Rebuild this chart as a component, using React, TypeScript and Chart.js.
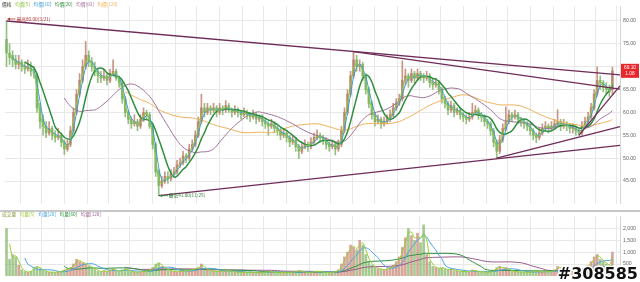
import React, { useEffect, useRef } from 'react';
import { Chart, registerables } from 'chart.js';

Chart.register(...registerables);

// ---- data (one bar ≈ 3 trading days) ----
const opens = [76,73,72.5,71.5,70.5,71,70,69.5,70,69,
68,61,58.5,57,55.5,56.5,55,54.5,55,53.5,
52,53,56,60,64,67,70,72.5,71,70,
69,68,67.5,68,67,68.5,69,67.5,66.5,63,
60,58.5,57.5,58,57,58.5,60,59.5,57,53,
47,44,45,46,45.5,46.5,47,48.5,49,50.5,
50,52,53,55,58,61,60,61,60.5,61,
60,61,60.5,61.5,60.5,60,60.5,60,59.5,60,
59.5,59,59.5,58.5,59,58,57.5,57,57.5,56.5,
56,55,55.5,54.5,53.5,54,52.5,51.5,52.5,53,
52.5,53.5,54.5,55,54.5,54,53,52.5,53,52,
53,56,60,64,68,71.5,70,70.5,68,65,
62,59.5,58,58.5,57.5,58,58.5,59.5,61,62,
63,67,68,67,68.5,67.5,68.5,68,67.5,68,
66.5,66,66.5,65,63,62,60.5,61.5,60,60.5,
59.5,59,58.5,59,60,60.5,59.5,59,58,57.5,
56,53.5,51.5,54,56.5,58,59.5,59,59.5,58.5,
58,57.5,57,56,55,54.5,55.5,56.5,57,56.5,
57,57.5,58,57,57.5,57,56.5,56.5,56,55.5,
57,58,59,61,64,67,66.5,65.5,65,65];

const highs = [80,75,73.5,72.5,72.5,71.5,71,71.5,71,70,
68.5,62,59.5,58,58,57,56,56.5,55.5,54,
54,57,61,65,68.5,71.5,75.5,73.5,72,71,
69.5,69,69.5,68.5,69.5,71.5,69.5,68,67,63.5,
60.5,59,59.5,58.5,59.5,61,60.5,60,57.5,53.5,
47.5,46,47,47,47.5,48,49.5,50,51.5,51,
53,54,56,59,64,62,62,61.5,62,61.5,
62,61.5,62.6,62,61,61.5,61,60.5,61,60.5,
60,60.5,60,59.5,59.5,58.5,58,58.5,58,57,
56.5,56.5,56,55,55,54.5,53,53.5,54,53.5,
54.5,55.5,56.2,55.5,55,54.5,53.5,54,53.5,54,
57,61,65,69,73.3,72.5,71.5,71,68.5,65.5,
62.5,60,59.5,59,59,59.5,60.5,62,63,64,
71.3,69.5,68.5,69.5,69,69.5,69,68.5,69,68.5,
67.5,67.5,67,65.5,63.5,62.5,62.5,62,61,61,
60,59.5,60,62,61.5,61,60,59.5,58.5,58,
56.5,54,55,57.5,61.2,60.5,60,60.5,60,59,
58.5,58,57.5,56.5,55.5,56.5,57.5,58,57.5,58,
58.5,60.6,58.5,58.5,58,57.5,57.5,57,56.5,58,
59,60,62,65,70,68,67,66.5,66,69.9];

const lows = [70,70.5,70,69.5,69.5,69,68.5,69,68,67.5,
60,56.5,55,54.5,55,54,53.5,54,52.5,50.8,
51.5,52.5,55.5,59.5,63.5,66.5,69.5,70,69,68,
66.5,66.5,67,66,66.5,68,67,65.5,62,59,
57.5,56.5,57,56,56.5,58,58.5,56.5,52,46,
41.8,43.5,44.5,44.5,45,46,46.5,48,48.5,49,
49.5,51.5,52.5,54.5,57.5,59,59.5,59.5,60,59,
59.5,59.5,60,60,59,59.5,59,58.5,59,58.5,
58,58.5,57.5,58,57,56.5,55,56.5,55.5,55,
54,54.5,53.5,52.5,53,51.5,49.9,51,52,51.5,
52,53,54,53.5,53,52,51.5,52,50.7,51.5,
52.5,55.5,59.5,63.5,67.5,69,69,67,64,61,
58.5,57,57.5,56.5,57,57.5,58,59,60.5,61.5,
62.5,66,65.5,66.5,66.5,67,67,66.5,67,65.5,
65,65.5,64,62,61,59.5,60,59,59.5,58.5,
58,57.5,58,58.5,59.5,58.5,58,57,56.5,55,
52.5,50,51,53.5,56,57.5,58,58.5,57.5,57,
56.5,56,55,54,53.4,54,55,56,55.5,56,
56.5,57,56,56.5,56,55.5,55.5,55,55,55,
56.5,57.5,58.5,60.5,63.5,65,64.5,64,63.5,64];

const closes = [73,72,71.5,70.5,71,70,69.5,70,69,68.5,
61,58,57,55.5,56.5,55,54.5,55,53.5,52,
53,56,60,64,67,70,72.5,71,70,69,
68,67.5,68,67,68.5,69,67.5,66.5,63,60,
58.5,57.5,58,57,58.5,60,59.5,57,53,47,
44,45,46,45.5,46.5,47,48.5,49,50.5,50,
52,53,55,58,61,60,61,60.5,61,60,
61,60.5,61.5,60.5,60,60.5,60,59.5,60,59.5,
59,59.5,58.5,59,58,57.5,57,57.5,56.5,56,
55,55.5,54.5,53.5,54,52.5,51.5,52.5,53,52.5,
53.5,54.5,55,54.5,54,53,52.5,53,52,53,
56,60,64,68,71.5,70,70.5,68,65,62,
59.5,58,58.5,57.5,58,58.5,59.5,61,62,63,
67,68,67,68.5,67.5,68.5,68,67.5,68,66.5,
66,66.5,65,63,62,60.5,61.5,60,60.5,59.5,
59,58.5,59,60,60.5,59.5,59,58,57.5,56,
53.5,51.5,54,56.5,58,59.5,59,59.5,58.5,58,
57.5,57,56,55,54.5,55.5,56.5,57,56.5,57,
57.5,58,57,57.5,57,56.5,56.5,56,55.5,57,
58,59,61,64,67,66.5,65.5,65,64.5,69.1];

const volumes = [2000,700,900,800,450,250,180,150,200,350,
400,300,220,180,150,160,140,180,200,250,
300,350,500,700,600,550,500,400,350,300,
200,180,220,160,250,300,200,180,250,300,
200,180,160,150,170,220,180,250,350,500,
550,400,300,250,200,180,160,200,220,200,
250,280,300,350,500,300,250,220,200,180,
200,180,250,200,180,160,150,160,140,150,
170,140,130,150,160,140,200,150,140,130,
150,140,130,160,150,180,220,180,150,140,
160,180,200,170,150,140,130,150,200,250,
500,800,1000,1300,1200,1100,1500,1300,900,600,
450,350,300,280,250,300,350,450,600,800,
1200,1600,2000,1700,1500,1800,1400,2150,900,600,
400,350,300,350,280,250,300,220,200,180,
200,180,160,250,200,180,160,170,150,180,
250,350,400,300,350,250,200,180,160,170,
150,140,160,180,200,170,160,180,170,200,
250,400,300,250,220,200,180,200,250,300,
350,450,600,800,900,700,600,500,450,1000];

const priceTicks = [45, 50, 55, 60, 65, 70, 75, 80];
const volumeTicks = [500, 1000, 1500, 2000];
const monthStarts = [1, 8, 15, 23, 30, 37, 44, 52, 59, 66, 74, 81, 88, 96, 103, 110, 117, 125, 132, 139, 146, 154, 161, 168, 176, 183, 190, 197];

const maLabels = ['均價[5]', '均價[10]', '均價[20]', '均價[60]', '均價[120]'];
const maWindows = [2, 3, 7, 20, 40];
const volMaLabels = ['均量[5]', '均量[20]', '均量[60]', '均量[120]'];
const volMaWindows = [2, 7, 20, 40];

// trend lines: [startIndex, startPrice, endIndex, endPrice]
const trendLines = [
  [0, 80, 201.5, 68.2],
  [114, 73.3, 201.5, 65.1],
  [50, 41.8, 201.5, 52.8],
  [161, 50, 201.5, 56.9],
  [188, 55, 201.5, 65.8],
];

const highLabel = '最高80.00(3/21)';
const highIndex = 0;
const highValue = 80;
const lowLabel = '最低41.80(11/25)';
const lowIndex = 50;
const lowValue = 41.8;
const lastPriceText = '69.10';
const lastChangeText = '1.08';

// ---- styles ----
const UP = 'rgba(188,124,104,0.8)';
const DOWN = 'rgba(122,176,98,0.8)';
const VOL_UP = 'rgba(200,132,112,0.72)';
const VOL_DOWN = 'rgba(132,182,104,0.72)';
const MA_COLORS = ['#8cc63f', '#3d9bd6', '#2f8f3f', '#a0719a', '#f0b25a'];
const MA_WIDTHS = [1, 1, 1.5, 1, 1];
const VOL_MA_COLORS = ['#9acd32', '#4aa3df', '#2f8f3f', '#9a5a8a'];
const TREND = '#6e2c58';
const GRID = '#e8e8e8';
const CJK = '"Noto Sans CJK TC"';

function movingAverage(values: number[], w: number) {
  return values.map((_, i) => {
    if (i < w - 1) return null;
    let s = 0;
    for (let k = i - w + 1; k <= i; k++) s += values[k];
    return s / w;
  });
}

function drawLegend(ctx: CanvasRenderingContext2D, items: [string, string][], x: number, y: number) {
  ctx.font = `4.7px ${CJK}`;
  ctx.textBaseline = 'middle';
  ctx.textAlign = 'left';
  items.forEach(([t, c]) => {
    ctx.fillStyle = c;
    ctx.fillText(t, x, y);
    x += ctx.measureText(t).width + 3.5;
  });
}

const slotCount = closes.length + 2;
const slots = Array.from({ length: slotCount }, (_, i) => String(i));

function xAxis() {
  return {
    type: 'category',
    offset: true,
    ticks: { display: false },
    grid: { color: GRID, drawTicks: false, offset: true },
    border: { display: false },
    afterBuildTicks: (axis: any) => {
      axis.ticks = monthStarts.map((v) => ({ value: v }));
    },
  };
}

export default function App() {
  const priceRef = useRef<HTMLCanvasElement>(null);
  const volRef = useRef<HTMLCanvasElement>(null);

  useEffect(() => {
    document.body.style.margin = '0';
    const candleColors = closes.map((c, i) => (c >= opens[i] ? UP : DOWN));
    const volColors = closes.map((c, i) => (c >= opens[i] ? VOL_UP : VOL_DOWN));

    const priceOverlay = {
      id: 'priceOverlay',
      afterDatasetsDraw(chart: any) {
        const { ctx, scales } = chart;
        const x = scales.x, y = scales.y;
        ctx.save();
        ctx.strokeStyle = TREND;
        ctx.lineWidth = 1.3;
        trendLines.forEach(([i1, p1, i2, p2]) => {
          ctx.beginPath();
          ctx.moveTo(x.getPixelForValue(i1), y.getPixelForValue(p1));
          ctx.lineTo(x.getPixelForValue(i2), y.getPixelForValue(p2));
          ctx.stroke();
        });
        // high annotation
        const hx = x.getPixelForValue(highIndex) + 1;
        const hy = y.getPixelForValue(highValue) - 2;
        ctx.strokeStyle = '#b03030';
        ctx.fillStyle = '#b03030';
        ctx.lineWidth = 0.8;
        ctx.beginPath(); ctx.moveTo(hx, hy); ctx.lineTo(hx + 8, hy); ctx.stroke();
        ctx.beginPath(); ctx.moveTo(hx, hy); ctx.lineTo(hx + 2.5, hy - 1.5); ctx.lineTo(hx + 2.5, hy + 1.5); ctx.closePath(); ctx.fill();
        ctx.font = `4.7px ${CJK}`;
        ctx.textBaseline = 'middle';
        ctx.fillText(highLabel, hx + 9, hy);
        // low annotation
        const lx = x.getPixelForValue(lowIndex) + 1;
        const ly = y.getPixelForValue(lowValue);
        ctx.strokeStyle = '#2f7f3a';
        ctx.fillStyle = '#2f7f3a';
        ctx.beginPath(); ctx.moveTo(lx, ly); ctx.lineTo(lx + 8, ly); ctx.stroke();
        ctx.beginPath(); ctx.moveTo(lx, ly); ctx.lineTo(lx + 2.5, ly - 1.5); ctx.lineTo(lx + 2.5, ly + 1.5); ctx.closePath(); ctx.fill();
        ctx.fillText(lowLabel, lx + 9, ly);
        ctx.restore();
      },
      afterDraw(chart: any) {
        const { ctx, scales, chartArea } = chart;
        ctx.save();
        drawLegend(ctx, [['價格', '#333333'], ...maLabels.map((t, i) => [t, MA_COLORS[i]] as [string, string])], 2, 4.5);
        const py = scales.y.getPixelForValue(closes[closes.length - 1]);
        ctx.fillStyle = '#e8262b';
        ctx.fillRect(chartArea.right + 1, py - 7, 640 - chartArea.right - 2, 14);
        ctx.fillStyle = '#ffffff';
        ctx.font = '4.8px "Liberation Sans"';
        ctx.textAlign = 'center';
        ctx.textBaseline = 'middle';
        const cx = (chartArea.right + 640) / 2;
        ctx.fillText(lastPriceText, cx, py - 3);
        ctx.fillText(lastChangeText, cx, py + 3.2);
        ctx.restore();
      },
    };

    const volOverlay = {
      id: 'volOverlay',
      afterDraw(chart: any) {
        const { ctx } = chart;
        ctx.save();
        ctx.strokeStyle = '#c8c8c8';
        ctx.lineWidth = 2;
        ctx.beginPath(); ctx.moveTo(0, 1); ctx.lineTo(640, 1); ctx.stroke();
        drawLegend(ctx, [['成交量', '#8a9a3a'], ...volMaLabels.map((t, i) => [t, VOL_MA_COLORS[i]] as [string, string])], 2, 4.5);
        ctx.font = 'bold 16px "DejaVu Sans"';
        ctx.textAlign = 'right';
        ctx.textBaseline = 'alphabetic';
        ctx.lineWidth = 3;
        ctx.strokeStyle = '#ffffff';
        ctx.lineJoin = 'round';
        ctx.strokeText('#308585', 638, 69);
        ctx.fillStyle = '#111111';
        ctx.fillText('#308585', 638, 69);
        ctx.restore();
      },
    };

    const priceChart = new Chart(priceRef.current as HTMLCanvasElement, {
      type: 'bar',
      data: {
        labels: slots,
        datasets: [
          ...maWindows.map((w, k) => ({
            type: 'line' as const,
            data: movingAverage(closes, w),
            borderColor: MA_COLORS[k],
            borderWidth: MA_WIDTHS[k],
            pointRadius: 0,
            tension: 0.3,
            fill: false,
            order: k,
          })),
          {
            type: 'bar' as const,
            data: opens.map((o, i) => [o, closes[i]]),
            backgroundColor: candleColors,
            barThickness: 2,
            minBarLength: 1,
            grouped: false,
            order: 6,
          },
          {
            type: 'bar' as const,
            data: highs.map((h, i) => [lows[i], h]),
            backgroundColor: candleColors,
            barThickness: 1,
            grouped: false,
            order: 7,
          },
        ] as any,
      },
      options: {
        animation: false,
        responsive: false,
        events: [],
        layout: { padding: { left: 5, right: 0, top: 0, bottom: 0 } },
        plugins: { legend: { display: false }, tooltip: { enabled: false } },
        scales: {
          x: xAxis() as any,
          y: {
            position: 'right',
            min: 40,
            max: 83.25,
            afterBuildTicks: (axis: any) => {
              axis.ticks = priceTicks.map((v) => ({ value: v }));
            },
            afterFit: (s: any) => { s.width = 20; },
            ticks: {
              padding: 3,
              color: '#666666',
              font: { family: 'Liberation Sans', size: 5.2 },
              callback: (v: any) => Number(v).toFixed(2),
            },
            grid: { color: GRID, drawTicks: false },
            border: { display: true, color: '#d6d6d6' },
          },
        },
      },
      plugins: [priceOverlay],
    });

    const volChart = new Chart(volRef.current as HTMLCanvasElement, {
      type: 'bar',
      data: {
        labels: slots,
        datasets: [
          ...volMaWindows.map((w, k) => ({
            type: 'line' as const,
            data: movingAverage(volumes, w),
            borderColor: VOL_MA_COLORS[k],
            borderWidth: 1,
            pointRadius: 0,
            tension: 0.3,
            fill: false,
            order: k,
          })),
          {
            type: 'bar' as const,
            data: volumes,
            backgroundColor: volColors,
            barThickness: 2,
            grouped: false,
            order: 6,
          },
        ] as any,
      },
      options: {
        animation: false,
        responsive: false,
        events: [],
        layout: { padding: { left: 5, right: 0, top: 0, bottom: 3 } },
        plugins: { legend: { display: false }, tooltip: { enabled: false } },
        scales: {
          x: xAxis() as any,
          y: {
            position: 'right',
            min: 0,
            max: 2520,
            afterBuildTicks: (axis: any) => {
              axis.ticks = volumeTicks.map((v) => ({ value: v }));
            },
            afterFit: (s: any) => { s.width = 20; },
            ticks: {
              padding: 3,
              color: '#666666',
              font: { family: 'Liberation Sans', size: 5.2 },
              callback: (v: any) => Number(v).toLocaleString('en-US'),
            },
            grid: { color: GRID, drawTicks: false },
            border: { display: true, color: '#d6d6d6' },
          },
        },
      },
      plugins: [volOverlay],
    });

    return () => {
      priceChart.destroy();
      volChart.destroy();
    };
  }, []);

  return (
    <div style={{ position: 'relative', width: 640, height: 282, background: '#ffffff', overflow: 'hidden' }}>
      <canvas ref={priceRef} width={640} height={210} style={{ position: 'absolute', left: 0, top: 0, display: 'block' }} />
      <canvas ref={volRef} width={640} height={72} style={{ position: 'absolute', left: 0, top: 210, display: 'block' }} />
    </div>
  );
}
